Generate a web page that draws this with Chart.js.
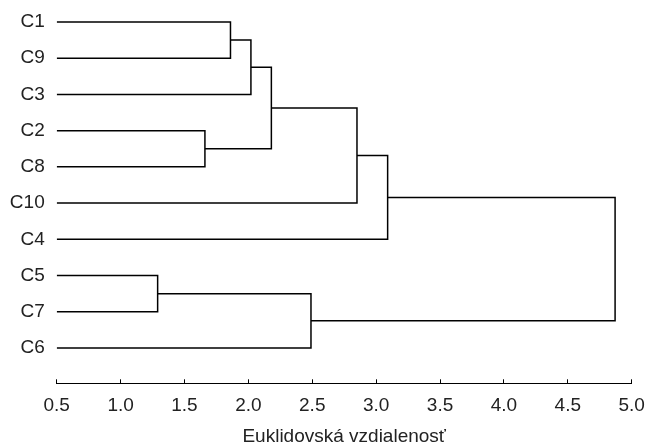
<!DOCTYPE html>
<html><head><meta charset="utf-8">
<script src="https://cdn.jsdelivr.net/npm/chart.js@4/dist/chart.umd.min.js"></script>
<style>html,body{margin:0;padding:0;background:#fff}canvas{display:block}</style>
</head><body>
<canvas id="c" width="648" height="446"></canvas>
<script>
// Leaves in dendrogram order (top to bottom)
const leafLabels = ['C1', 'C9', 'C3', 'C2', 'C8', 'C10', 'C4', 'C5', 'C7', 'C6'];
// Merge steps: indices < 10 are leaves, index 10 + k refers to merge k
const mergeLeft   = [7, 3, 0, 12, 13, 10, 14, 16, 17];
const mergeRight  = [8, 4, 1, 2, 11, 9, 5, 6, 15];
const mergeHeight = [1.29, 1.66, 1.86, 2.02, 2.18, 2.49, 2.85, 3.09, 4.87];
const xTicks = [0.5, 1.0, 1.5, 2.0, 2.5, 3.0, 3.5, 4.0, 4.5, 5.0];
const xTitle = 'Euklidovská vzdialenosť';

const FONT = 'Liberation Sans, Arial, sans-serif';
const TEXT = '#222';
const LINE = '#000';

const nLeaves = leafLabels.length;
const nodeX = [], nodeY = [];
for (let i = 0; i < nLeaves; i++) { nodeX.push(xTicks[0]); nodeY.push(i); }
const datasets = [];
for (let k = 0; k < mergeHeight.length; k++) {
  const a = mergeLeft[k], b = mergeRight[k], h = mergeHeight[k];
  datasets.push({
    data: [
      {x: nodeX[a], y: nodeY[a]},
      {x: h, y: nodeY[a]},
      {x: h, y: nodeY[b]},
      {x: nodeX[b], y: nodeY[b]}
    ],
    showLine: true,
    borderColor: LINE,
    borderWidth: 1.5,
    pointRadius: 0,
    tension: 0,
    fill: false
  });
  nodeX.push(h);
  nodeY.push((nodeY[a] + nodeY[b]) / 2);
}

new Chart(document.getElementById('c'), {
  type: 'scatter',
  data: { datasets },
  options: {
    responsive: false,
    animation: false,
    events: [],
    layout: { padding: { left: 0, right: 16.3, top: 0, bottom: 0 } },
    plugins: { legend: { display: false }, tooltip: { enabled: false } },
    scales: {
      x: {
        type: 'linear',
        min: xTicks[0],
        max: xTicks[xTicks.length - 1],
        afterBuildTicks: s => { s.ticks = xTicks.map(v => ({ value: v })); },
        ticks: {
          callback: v => Number(v).toFixed(1),
          font: { family: FONT, size: 19 },
          color: TEXT,
          padding: 14.6,
          maxRotation: 0,
          autoSkip: false
        },
        grid: { display: true, drawOnChartArea: false, drawTicks: true, tickLength: -4, color: LINE, lineWidth: 1 },
        border: { display: true, color: LINE, width: 1 },
        title: {
          display: true,
          text: xTitle,
          font: { family: FONT, size: 19, lineHeight: 1 },
          color: TEXT,
          padding: { top: 0, bottom: 0 }
        },
        afterFit: s => { s.height = 62.7; s.paddingLeft = 0; s.paddingRight = 0; }
      },
      y: {
        type: 'linear',
        reverse: true,
        min: -0.607,
        max: 9.975,
        afterBuildTicks: s => { s.ticks = leafLabels.map((_, i) => ({ value: i })); },
        ticks: {
          callback: v => leafLabels[v],
          font: { family: FONT, size: 19 },
          color: TEXT,
          padding: 12,
          autoSkip: false
        },
        grid: { display: false, drawTicks: false },
        border: { display: false },
        afterFit: s => { s.width = 56.7; s.paddingTop = 0; s.paddingBottom = 0; }
      }
    }
  }
});
</script>
</body></html>
